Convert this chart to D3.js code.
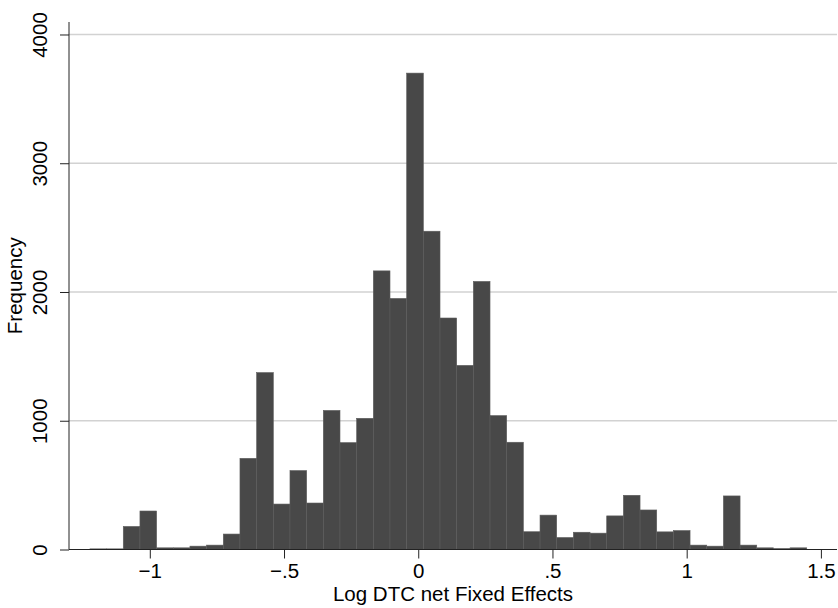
<!DOCTYPE html>
<html>
<head>
<meta charset="utf-8">
<script src="https://cdn.jsdelivr.net/npm/d3@7"></script>
<style>
  body { margin: 0; background: #fff; }
  text { font-family: "Liberation Sans", Arial, Helvetica, sans-serif; fill: #000; }
</style>
</head>
<body>
<div id="chart"></div>
<script>
// histogram bins: first edge and width (in log DTC units), counts per bin
var binStart = -1.223;
var binWidth = 0.0621;
var counts = [5, 5, 179, 299, 13, 13, 26, 34, 120, 708,
              1374, 353, 613, 361, 1080, 830, 1019, 2164, 1950, 3700,
              2472, 1798, 1430, 2082, 1040, 833, 138, 267, 93, 134,
              127, 261, 421, 307, 137, 147, 34, 26, 416, 34,
              13, 8, 13];

var xTicks = [-1, -0.5, 0, 0.5, 1, 1.5];
var xTickLabels = ["\u22121", "\u2212.5", "0", ".5", "1", "1.5"];
var yTicks = [0, 1000, 2000, 3000, 4000];
var yGrid = [1000, 2000, 3000, 4000];

var xTitle = "Log DTC net Fixed Effects";
var yTitle = "Frequency";

var visualize = function() {
  var width = 838, height = 608;
  var margin = { top: 22, right: 1, bottom: 58.5, left: 69 };

  var bins = counts.map(function(c, i) {
    return { x0: binStart + i * binWidth, x1: binStart + (i + 1) * binWidth, n: c };
  });

  var x = d3.scaleLinear()
    .domain([-1.301, 1.560])
    .range([margin.left, width - margin.right]);

  var y = d3.scaleLinear()
    .domain([0, 4097])
    .range([height - margin.bottom, margin.top]);

  var svg = d3.select("#chart")
    .append("svg")
    .attr("width", width)
    .attr("height", height);

  // grid lines
  svg.append("g")
    .selectAll("line")
    .data(yGrid)
    .enter()
    .append("line")
    .attr("x1", margin.left)
    .attr("x2", width - margin.right)
    .attr("y1", function(d) { return y(d); })
    .attr("y2", function(d) { return y(d); })
    .attr("stroke", "#d2d2d2")
    .attr("stroke-width", 1.5);

  // bars
  svg.append("g")
    .selectAll("rect")
    .data(bins)
    .enter()
    .append("rect")
    .attr("x", function(d) { return x(d.x0); })
    .attr("width", function(d) { return x(d.x1) - x(d.x0); })
    .attr("y", function(d) { return y(d.n); })
    .attr("height", function(d) { return y(0) - y(d.n); })
    .attr("fill", "#484848")
    .attr("stroke", "#5c5c5c")
    .attr("stroke-width", 0.6);

  // x axis
  var xAxis = d3.axisBottom(x)
    .tickValues(xTicks)
    .tickSize(9)
    .tickFormat(function(d, i) { return xTickLabels[i]; });

  var gx = svg.append("g")
    .attr("transform", "translate(0," + y(0) + ")")
    .call(xAxis);
  gx.select(".domain").attr("d", "M" + margin.left + ",0H" + (width - margin.right)).attr("stroke", "#222");
  gx.selectAll(".tick line").attr("stroke", "#222");
  gx.selectAll(".tick text")
    .attr("y", 28.5)
    .attr("dy", 0)
    .style("font-size", "20.5px")
    .attr("fill", "#000");

  // y axis
  var yAxis = d3.axisLeft(y)
    .tickValues(yTicks)
    .tickSize(9)
    .tickFormat(d3.format("d"));

  var gy = svg.append("g")
    .attr("transform", "translate(" + margin.left + ",0)")
    .call(yAxis);
  gy.select(".domain").attr("d", "M0," + margin.top + "V" + y(0)).attr("stroke", "#222");
  gy.selectAll(".tick line").attr("stroke", "#222");
  gy.selectAll(".tick text")
    .attr("x", 0)
    .attr("dy", 0)
    .attr("text-anchor", "middle")
    .attr("transform", "translate(-22,0) rotate(-90)")
    .style("font-size", "20.5px")
    .attr("fill", "#000");

  // axis titles
  svg.append("text")
    .attr("x", (margin.left + width - margin.right) / 2)
    .attr("y", 601)
    .attr("text-anchor", "middle")
    .style("font-size", "20.5px")
    .text(xTitle);

  svg.append("text")
    .attr("transform", "translate(22," + ((margin.top + y(0)) / 2) + ") rotate(-90)")
    .attr("text-anchor", "middle")
    .style("font-size", "20.5px")
    .text(yTitle);
};

visualize();
</script>
</body>
</html>
